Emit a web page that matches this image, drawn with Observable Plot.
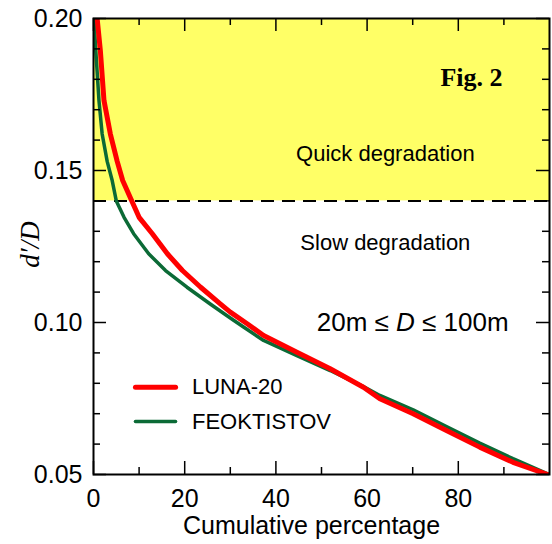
<!DOCTYPE html>
<html><head><meta charset="utf-8">
<script src="https://cdn.jsdelivr.net/npm/d3@7"></script>
<script src="https://cdn.jsdelivr.net/npm/@observablehq/plot@0.6"></script>
<style>
body{margin:0;background:#fff;}
#chart{position:absolute;left:0;top:0;}
</style>
</head><body><div id="chart"></div>
<script>
// ---- data ----
const seriesNames = ["LUNA-20", "FEOKTISTOV"];
const seriesColors = ["#ff0000", "#0b6a36"];
const lunaX = [0.8, 1.5, 2.3, 3.7, 5.2, 6.4, 8.4, 10, 12.9, 16.2, 19.5, 23.5, 27.8, 30, 33.7, 37.3, 44.6, 51.9, 59.2, 62.8, 70.1, 77.4, 84.7, 92, 99.6];
const lunaY = [0.200, 0.1895, 0.173, 0.162, 0.153, 0.1467, 0.140, 0.1346, 0.1292, 0.1226, 0.1171, 0.1116, 0.1061, 0.1034, 0.0996, 0.0957, 0.0902, 0.0848, 0.0787, 0.0749, 0.0700, 0.0645, 0.0590, 0.0540, 0.0500];
const feokX = [0.1, 0.5, 1.2, 1.9, 3.0, 4.1, 5.0, 6.7, 8.8, 12.1, 15.8, 20.5, 25.6, 30, 32.9, 37.3, 44.6, 51.9, 59.2, 62.8, 70.1, 77.4, 84.7, 92, 99.6];
const feokY = [0.200, 0.1895, 0.173, 0.162, 0.153, 0.1467, 0.140, 0.1346, 0.1292, 0.1226, 0.1171, 0.1116, 0.1061, 0.1015, 0.0985, 0.0941, 0.0891, 0.0842, 0.0789, 0.0760, 0.0713, 0.0658, 0.0603, 0.0552, 0.0502];
const xDomain = [0, 100];
const yDomain = [0.05, 0.20];
const xMajorTicks = [0, 20, 40, 60, 80];
const xMinorTicks = [10, 30, 50, 70, 90];
const yMajorTicks = [0.05, 0.10, 0.15, 0.20];
const yMinorTicks = [0.06, 0.07, 0.08, 0.09, 0.11, 0.12, 0.13, 0.14, 0.16, 0.17, 0.18, 0.19];
const yTickLabels = ["0.05", "0.10", "0.15", "0.20"];
const threshold = 0.14;

// ---- layout ----
const W = 552, H = 544;
const mL = 93, mR = 3, mT = 18, mB = 70;
const plotW = W - mL - mR, plotH = H - mT - mB;
const MAJ = 13, MIN = 7;

const luna = lunaX.map((x, i) => ({x, y: lunaY[i]}));
const feok = feokX.map((x, i) => ({x, y: feokY[i]}));
const legend = [
  {name: seriesNames[0], color: seriesColors[0], x1: 9.2, x2: 18, y: 0.0787, w: 5},
  {name: seriesNames[1], color: seriesColors[1], x1: 9.2, x2: 18, y: 0.0674, w: 3.5}
];
const labelMap = new Map(yMajorTicks.map((v, i) => [v, yTickLabels[i]]));

const chart = Plot.plot({
  width: W, height: H,
  marginLeft: mL, marginRight: mR, marginTop: mT, marginBottom: mB,
  style: {fontFamily: "'Liberation Sans', Arial, sans-serif", fontSize: "25px", color: "#000", background: "#fff"},
  x: {domain: xDomain},
  y: {domain: yDomain},
  marks: [
    Plot.rect([{}], {x1: xDomain[0], x2: xDomain[1], y1: threshold, y2: yDomain[1], fill: "#ffff66"}),
    Plot.ruleY([threshold], {stroke: "#000", strokeWidth: 2, strokeDasharray: "13,8"}),
    Plot.line(feok, {x: "x", y: "y", stroke: seriesColors[1], strokeWidth: 3.5, clip: true}),
    Plot.line(luna, {x: "x", y: "y", stroke: seriesColors[0], strokeWidth: 5, clip: true}),
    Plot.frame({stroke: "#000", strokeWidth: 2}),
    // inward ticks on four sides
    Plot.tickX(xMajorTicks, {x: d => d, insetTop: plotH - MAJ, stroke: "#000", strokeWidth: 1.5}),
    Plot.tickX(xMinorTicks, {x: d => d, insetTop: plotH - MIN, stroke: "#000", strokeWidth: 1.5}),
    Plot.tickX(xMajorTicks, {x: d => d, insetBottom: plotH - MAJ, stroke: "#000", strokeWidth: 1.5}),
    Plot.tickX(xMinorTicks, {x: d => d, insetBottom: plotH - MIN, stroke: "#000", strokeWidth: 1.5}),
    Plot.tickY(yMajorTicks, {y: d => d, insetRight: plotW - MAJ, stroke: "#000", strokeWidth: 1.5}),
    Plot.tickY(yMinorTicks, {y: d => d, insetRight: plotW - MIN, stroke: "#000", strokeWidth: 1.5}),
    Plot.tickY(yMajorTicks, {y: d => d, insetLeft: plotW - MAJ, stroke: "#000", strokeWidth: 1.5}),
    Plot.tickY(yMinorTicks, {y: d => d, insetLeft: plotW - MIN, stroke: "#000", strokeWidth: 1.5}),
    Plot.axisX({ticks: xMajorTicks, tickSize: 0, tickPadding: 15, label: null, fontSize: 25}),
    Plot.axisY({ticks: yMajorTicks, tickSize: 0, tickPadding: 11, tickFormat: d => labelMap.get(d), label: null, fontSize: 25}),
    Plot.text(["Cumulative percentage"], {frameAnchor: "bottom", lineAnchor: "middle", dx: -10, dy: 51, fontSize: 25}),
    Plot.text(["d\u2032/D"], {frameAnchor: "left", textAnchor: "middle", lineAnchor: "middle", dx: -63, dy: -2, rotate: -90, fontSize: 27, fontStyle: "italic", fontFamily: "'Liberation Serif', 'Times New Roman', serif"}),
    Plot.text(["Fig. 2"], {x: 82.9, y: 0.1806, fontSize: 26, fontWeight: "bold", fontFamily: "'Liberation Serif', 'Times New Roman', serif"}),
    Plot.text(["Quick degradation"], {x: 64, y: 0.1553, fontSize: 22}),
    Plot.text(["Slow degradation"], {x: 64, y: 0.1263, fontSize: 22}),
    Plot.text(["20m \u2264 D \u2264 100m"], {x: 70, y: 0.0998, fontSize: 26}),
    Plot.link(legend, {x1: "x1", x2: "x2", y1: "y", y2: "y", stroke: "color", strokeWidth: "w", strokeLinecap: "round"}),
    Plot.text(legend, {x: 21.6, y: "y", text: "name", textAnchor: "start", fontSize: 22})
  ]
});
document.getElementById("chart").appendChild(chart);

// italic D in range annotation
d3.select(chart).selectAll("text").filter(function() { return this.textContent === "20m \u2264 D \u2264 100m"; })
  .each(function() {
    const t = d3.select(this);
    t.text(null);
    t.append("tspan").text("20m \u2264 ");
    t.append("tspan").attr("font-style", "italic").text("D");
    t.append("tspan").text(" \u2264 100m");
  });
</script>
</body></html>
